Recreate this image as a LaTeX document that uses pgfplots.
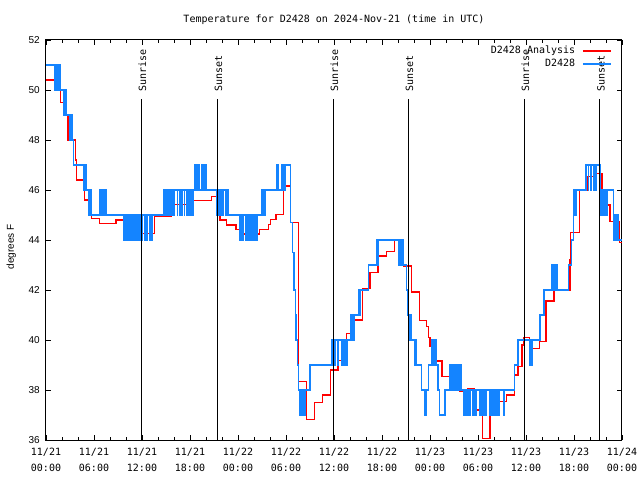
\documentclass[border=0pt]{standalone}
\usepackage{fontspec}
\setmainfont{Liberation Sans}
\newfontfamily\monofont{DejaVu Sans Mono}
\usepackage{pgfplots}
\pgfplotsset{compat=1.18}
\definecolor{obsblue}{RGB}{20,132,255}
\definecolor{anared}{RGB}{255,0,0}

\pgfplotstableread{
h T
0 50.4
1.6 50.0
1.8 49.5
2.5 49.0
2.75 48.0
3.7 47.2
3.8 46.4
4.8 45.6
5.7 44.87
6.7 44.67
8.75 44.8
9.7 44.13
10.7 44.0
11.75 44.27
13.6 44.96
15.7 45.43
17.6 45.57
20.7 45.73
21.4 45.0
21.75 44.8
22.6 44.6
23.75 44.43
24.2 44.24
26.7 44.43
27.8 44.63
28.1 44.83
28.75 45.03
29.67 46.16
30.6 44.7
31.54 38.33
32.6 36.83
33.6 37.5
34.6 37.8
35.6 38.8
36.5 39.17
37.6 40.27
38.6 40.8
39.6 42.07
40.5 42.7
41.5 43.36
42.6 43.53
43.6 43.97
44.7 42.96
45.7 41.92
46.7 40.77
47.6 40.53
47.8 40.1
48.0 39.73
48.2 39.16
49.5 38.53
51.75 37.96
52.7 38.07
53.6 37.2
54.6 36.07
55.5 37.1
56.5 37.53
57.6 37.8
58.6 38.6
59.0 38.93
59.5 39.8
59.7 40.1
60.4 39.67
61.7 39.93
62.5 41.56
63.5 42.0
65.5 43.2
65.6 44.3
66.7 46.0
67.7 46.53
68.7 46.67
69.5 45.4
70.5 44.73
71.7 43.9
72 43.9
}\analysis

\pgfplotstableread{
h T
0 51
1.1 50
1.15 51
1.2 50
1.25 51
1.3 50
1.35 51
1.4 50
1.45 51
1.5 50
1.55 51
1.7 50
1.75 51
1.8 50
2.25 49
2.3 50
2.4 49
2.45 50
2.5 49
3.0 48
3.05 49
3.15 48
3.2 49
3.25 48
3.42 47
4.67 46
4.75 47
4.85 46
4.95 47
5.05 46
5.3 45
5.35 46
5.45 45
5.5 46
5.6 45
5.65 46
5.71 45
6.75 46
6.85 45
7.0 46
7.1 45
7.2 46
7.35 45
7.45 46
7.55 45
9.7 44
9.8 45
9.9 44
10.0 45
10.1 44
10.2 45
10.3 44
10.4 45
10.5 44
10.6 45
10.7 44
10.8 45
10.9 44
11.0 45
11.1 44
11.2 45
11.3 44
11.4 45
11.5 44
11.6 45
11.7 44
11.8 45
12.0 44
12.1 45
12.3 44
12.4 45
12.6 44
12.7 45
12.9 44
13.0 45
13.2 44
13.3 45
14.7 46
14.8 45
14.85 46
15.0 45
15.05 46
15.2 45
15.25 46
15.4 45
15.45 46
15.6 45
15.65 46
15.8 45
15.85 46
16.0 45
16.1 46
16.4 45
16.45 46
16.7 45
16.75 46
17.0 45
17.05 46
17.3 45
17.35 46
17.6 45
17.65 46
17.8 45
17.85 46
18.0 45
18.05 46
18.2 45
18.25 46
18.4 45
18.45 46
18.6 47
18.7 46
18.75 47
18.85 46
18.9 47
19.0 46
19.1 47
19.2 46
19.4 47
19.5 46
19.6 47
19.7 46
19.8 47
19.9 46
20.0 47
20.1 46
21.35 45
21.45 46
21.5 45
21.6 46
21.65 45
21.75 46
21.8 45
21.9 46
21.95 45
22.05 46
22.1 45
22.17 46
22.4 45
22.45 46
22.6 45
22.65 46
22.79 45
24.25 44
24.3 45
24.35 44
24.4 45
24.45 44
24.5 45
24.55 44
24.6 45
24.65 44
24.7 45
24.9 44
25.0 45
25.15 44
25.25 45
25.3 44
25.35 45
25.45 44
25.5 45
25.6 44
25.65 45
25.75 44
25.8 45
25.9 44
25.95 45
26.0 44
26.05 45
26.1 44
26.15 45
26.2 44
26.25 45
26.3 44
26.4 45
26.96 46
27.05 45
27.15 46
27.25 45
27.4 46
28.8 47
28.9 46
29.0 47
29.1 46
29.4 47
29.45 46
29.5 47
29.55 46
29.6 47
29.65 46
29.7 47
29.75 46
29.8 47
29.85 46
29.9 47
30.6 44.7
30.85 43.5
31.0 42
31.15 41
31.2 40
31.25 41
31.3 40
31.4 39
31.55 38
31.7 37
31.75 38
31.85 37
31.9 38
31.95 37
32.0 38
32.05 37
32.1 38
32.15 37
32.25 38
32.3 37
32.4 38
32.9 39
32.95 38
33.0 39
33.05 38
33.1 39
35.7 40
35.8 39
35.85 40
35.95 39
36.0 40
36.05 39
36.13 40
36.5 39
36.55 40
36.96 39
37.0 40
37.05 39
37.1 40
37.2 39
37.25 40
37.35 39
37.4 40
37.5 39
37.55 40
37.6 39
37.65 40
38.1 41
38.15 40
38.2 41
38.25 40
38.3 41
38.35 40
38.4 41
38.45 40
38.5 41
38.55 40
38.6 41
39.05 42
39.1 41
39.15 42
39.2 41
39.25 42
40.29 43
41.35 44
41.4 43
41.45 44
41.5 43
41.54 44
44.1 43
44.15 44
44.25 43
44.3 44
44.35 43
44.4 44
44.45 43
44.5 44
44.55 43
44.6 44
44.65 43
45.08 42
45.15 41
45.29 40
45.35 41
45.4 40
45.45 41
45.5 40
45.55 41
45.6 40
45.65 41
45.71 40
46.1 39
46.15 40
46.25 39
46.96 38
47.375 37
47.45 38
47.5 37
47.58 38
47.79 39
48.21 40
48.25 39
48.3 40
48.35 39
48.4 40
48.45 39
48.5 40
48.55 39
48.6 40
48.65 39
48.7 40
48.75 39
48.9 38
49.0 39
49.1 38
49.17 37
49.88 38
50.42 39
50.47 38
50.52 39
50.57 38
50.62 39
50.67 38
50.72 39
50.77 38
51.0 39
51.05 38
51.1 39
51.15 38
51.25 39
51.3 38
51.4 39
51.45 38
51.5 39
51.55 38
51.65 39
51.7 38
51.8 39
51.85 38
51.9 39
51.96 38
52.2 37
52.25 38
52.4 37
52.45 38
52.6 37
52.65 38
52.85 37
52.9 38
53.0 37
53.05 38
53.35 37
53.4 38
53.5 37
53.55 38
53.65 37
53.7 38
53.8 37
53.85 38
54.25 37
54.3 38
54.45 37
54.5 38
54.65 37
54.7 38
54.85 37
54.9 38
55.0 37
55.05 38
55.5 37
55.55 38
55.65 37
55.7 38
55.8 37
55.85 38
55.95 37
56.0 38
56.1 37
56.15 38
56.3 37
56.35 38
56.5 37
56.55 38
56.65 37
56.7 38
57.2 37
57.25 38
58.6 39
58.9 40
58.95 39
59.0 40
59.05 39
59.1 40
60.42 39
60.47 40
60.52 39
60.57 40
60.62 39
60.67 40
60.72 39
60.8 40
61.75 41
62.25 42
62.3 41
62.35 42
63.2 43
63.25 42
63.3 43
63.35 42
63.4 43
63.45 42
63.5 43
63.55 42
63.6 43
63.7 42
63.75 43
63.9 42
65.29 43
65.71 44
65.9 45
65.95 46
66.0 45
66.05 46
66.1 45
66.15 46
66.2 45
66.25 46
67.4 47
67.5 46
67.55 47
67.8 46
67.85 47
68.1 46
68.15 47
68.4 46
68.45 47
68.5 46
68.55 47
68.6 46
68.65 47
68.7 46
68.75 47
68.8 46
68.85 47
69.25 46
69.3 45
69.35 46
69.4 45
69.45 46
69.5 45
69.55 46
69.6 45
69.65 46
69.7 45
69.75 46
69.8 45
69.9 46
70.0 45
70.05 46
70.15 45
70.2 46
70.9 45
70.95 44
71.0 45
71.05 44
71.1 45
71.15 44
71.2 45
71.3 44
71.35 45
71.45 44
71.5 45
71.6 44
72 44
}\observed

\begin{document}
\begin{tikzpicture}
\path[use as bounding box] (0,0) rectangle (640pt,480pt);
\begin{axis}[
  at={(46pt,40pt)}, anchor=south west,
  scale only axis, width=576pt, height=400pt,
  xmin=0, xmax=72, ymin=36, ymax=52,
  xtick={0,6,...,72},
  xticklabels={{11/21\\00:00},{11/21\\06:00},{11/21\\12:00},{11/21\\18:00},{11/22\\00:00},{11/22\\06:00},{11/22\\12:00},{11/22\\18:00},{11/23\\00:00},{11/23\\06:00},{11/23\\12:00},{11/23\\18:00},{11/24\\00:00}},
  minor x tick num=2,
  ytick={36,38,...,52},
  major tick length=5pt, minor tick length=3pt,
  tick style={black, line width=0.8pt},
  axis line style={line width=1pt},
  xticklabel style={font=\monofont\fontsize{10}{16}\selectfont, align=center, inner sep=0pt, yshift=-8pt},
  yticklabel style={font=\fontsize{10}{12}\selectfont, inner sep=0pt, xshift=-6pt},
  /pgf/number format/assume math mode=true,
  ylabel={degrees F},
  ylabel style={font=\fontsize{10}{12}\selectfont, at={(axis description cs:-0.052,0.4825)}, anchor=south, inner sep=0pt},
  title={Temperature for D2428 on 2024-Nov-21 (time in UTC)},
  title style={font=\monofont\fontsize{10}{12}\selectfont, at={(0.5,1)}, anchor=base, yshift=11pt, inner sep=0pt},
  legend style={draw=none, fill=none, font=\monofont\fontsize{10}{12}\selectfont,
    at={(axis description cs:1,1)}, anchor=north east, xshift=-10pt, yshift=-4pt,
    row sep=0pt, column sep=5pt, inner sep=0pt},
  legend cell align=right,
  legend plot pos=right,
  legend image code/.code={\draw[#1] (0pt,0pt) -- (28pt,0pt);},
]
\addplot[const plot, anared, line width=1.2pt, forget plot] table[x=h, y=T] {\analysis};
\addplot[const plot, obsblue, line width=1.2pt, forget plot] table[x=h, y=T] {\observed};
\addplot[black, line width=1.1pt, forget plot] coordinates {(11.91,36) (11.91,49.64)};
\addplot[black, line width=1.1pt, forget plot] coordinates {(21.41,36) (21.41,49.64)};
\addplot[black, line width=1.1pt, forget plot] coordinates {(35.92,36) (35.92,49.64)};
\addplot[black, line width=1.1pt, forget plot] coordinates {(45.29,36) (45.29,49.64)};
\addplot[black, line width=1.1pt, forget plot] coordinates {(59.79,36) (59.79,49.64)};
\addplot[black, line width=1.1pt, forget plot] coordinates {(69.22,36) (69.22,49.64)};
\node[rotate=90, anchor=west, inner sep=0pt, font=\monofont\fontsize{10}{12}\selectfont] at (axis cs:12.05,49.92) {Sunrise};
\node[rotate=90, anchor=west, inner sep=0pt, font=\monofont\fontsize{10}{12}\selectfont] at (axis cs:21.55,49.92) {Sunset};
\node[rotate=90, anchor=west, inner sep=0pt, font=\monofont\fontsize{10}{12}\selectfont] at (axis cs:36.06,49.92) {Sunrise};
\node[rotate=90, anchor=west, inner sep=0pt, font=\monofont\fontsize{10}{12}\selectfont] at (axis cs:45.43,49.92) {Sunset};
\node[rotate=90, anchor=west, inner sep=0pt, font=\monofont\fontsize{10}{12}\selectfont] at (axis cs:59.93,49.92) {Sunrise};
\node[rotate=90, anchor=west, inner sep=0pt, font=\monofont\fontsize{10}{12}\selectfont] at (axis cs:69.36,49.92) {Sunset};
\addlegendimage{draw=anared, line width=1.6pt}
\addlegendentry{D2428 Analysis}
\addlegendimage{draw=obsblue, line width=1.6pt}
\addlegendentry{D2428}
\end{axis}
\end{tikzpicture}
\end{document}
